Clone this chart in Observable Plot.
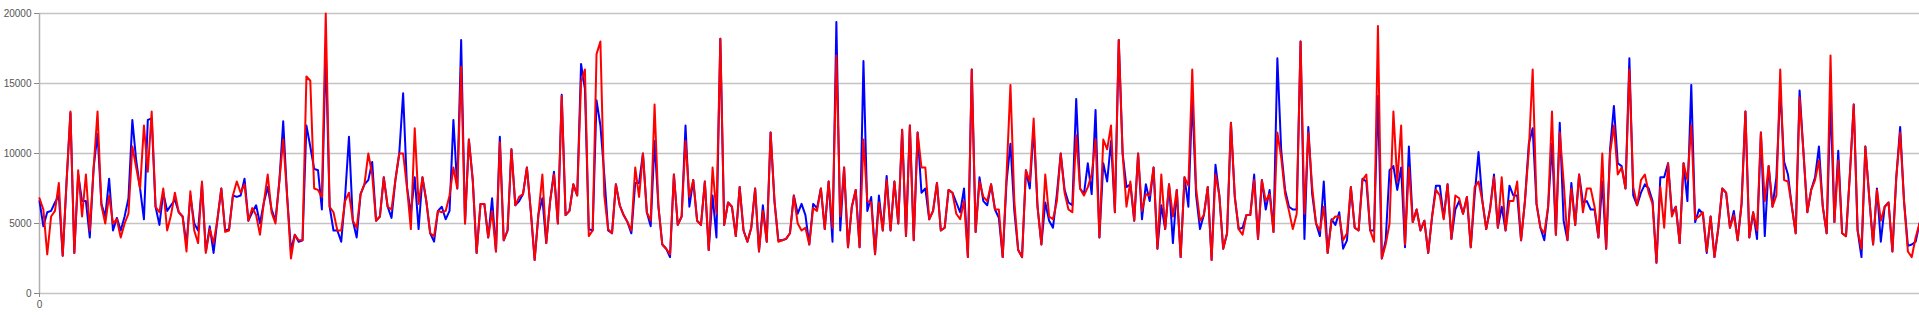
<!DOCTYPE html>
<html>
<head>
<meta charset="utf-8">
<script src="https://cdn.jsdelivr.net/npm/d3@7"></script>
<script src="https://cdn.jsdelivr.net/npm/@observablehq/plot@0.6"></script>
<style>
  html, body { margin: 0; padding: 0; background: #fff; }
  #chart { width: 1919px; height: 315px; overflow: hidden; }
</style>
</head>
<body>
<div id="chart"></div>
<script>
const yTicks = [0, 5000, 10000, 15000, 20000];
const xTicks = [0];

const blueSeries = [
6600,4800,5800,5900,6500,7000,2700,8000,12900,2900,8500,6600,6600,4000,9000,11400,6400,5500,8200,4500,
5400,4500,5500,6800,12400,9500,7500,5300,12400,12500,6200,4900,7200,5900,6300,6700,5800,5500,3500,7000,
5000,4500,7800,3000,4800,2900,5300,7500,4500,4600,7000,6900,7000,8200,5200,5800,6300,5000,6500,7600,
6000,5200,8000,12300,7000,3100,4200,3700,3800,12000,10500,8900,8800,6000,17500,6200,4500,4500,3700,6900,
11200,5200,4000,7100,7800,8100,9400,5200,5500,8300,6200,5400,8100,10000,14300,7600,5700,8300,4600,8300,
6600,4300,3700,5900,6200,5300,5900,12400,7500,18100,5000,11000,8100,2900,6400,6400,4000,6800,3000,11200,
3800,4500,10300,6300,6600,7100,9000,5900,2400,5700,6800,3600,6600,8700,5000,14200,5600,5900,7800,7000,
16400,14600,4600,4500,13800,12000,8500,4500,4300,7800,6300,5600,5100,4300,7900,7900,10000,5800,4800,10900,
6200,3500,3200,2600,8500,4900,5500,12000,6200,8100,5200,4900,8000,3100,7000,4000,18200,4900,6500,6200,
4100,7600,4500,3700,4700,7500,3000,6300,3700,11500,6600,3800,3800,3900,4300,7000,5700,6400,5600,3500,
6400,6100,7500,4600,8000,3700,19400,4500,9000,3300,6200,7400,3300,16600,5900,6900,2800,7000,4500,8400,
4500,8000,5000,11700,4100,12000,3800,11500,7200,7500,5300,5900,7900,4500,4700,7400,7200,6500,5800,7500,
2600,16000,4400,8300,6600,6300,7800,6000,5400,2600,8000,10700,5900,3100,2600,8800,7500,11800,6200,3500,
6500,5200,4700,7100,10000,7400,6500,6300,13900,7500,7100,9300,7100,13100,4000,9300,8000,10900,5800,18100,
10000,7600,7800,5200,10000,5300,7800,6600,9000,3200,6300,4600,7800,3600,7400,2600,8300,6200,14000,7000,
4600,5600,7600,2400,9200,7000,3200,4300,12200,6900,4600,4700,5600,5600,8500,3900,8100,6000,7400,4400,
16800,10200,7400,6200,6000,6000,18000,3900,11900,7100,5000,4100,8000,2900,5300,4900,5800,3200,3800,7600,
4700,4500,8200,8000,4500,4500,14100,2500,3800,8800,9100,7400,9000,3300,10500,5100,6000,4500,5200,2900,
5500,7700,7700,5400,7800,3900,6000,6600,5700,6900,3300,7000,10100,6600,4600,6100,8500,4700,6200,4500,
7700,7000,7000,3800,6600,10700,11800,6400,4700,3800,6200,10700,4200,12200,5200,3800,7900,4900,8500,6500,
6600,6000,6000,4000,8000,3200,10300,13400,9300,9100,7500,16800,7000,6300,7200,7800,7500,6600,2200,8300,
8300,9300,5700,6200,3600,9300,6600,14900,5100,6000,5700,2900,5500,2600,4700,7500,7200,4700,5900,3800,
6400,13000,4000,5800,3900,11500,4100,9100,6200,8300,14500,9400,8500,6200,4300,14500,10100,5800,7400,8300,
10500,6200,4300,13800,5100,10200,4300,4100,8500,13500,4500,2600,10500,6900,3500,7500,3700,6200,6500,3000,
8300,11900,6600,3400,3500,3700,5000
];

const redSeries = [
6800,6000,2800,5500,5900,7900,2700,8000,13000,2900,8800,5500,8500,4500,9000,13000,6300,5000,7000,5000,
5300,4000,5000,5700,10500,9000,7500,12000,8700,13000,6200,5800,7500,4500,5600,7200,5800,5500,3000,7300,
4500,3600,8000,2900,4600,3600,5300,7500,4400,4500,7000,8000,7200,7800,5200,6100,5600,4200,6500,8500,
5800,5000,8000,11000,7000,2500,4200,3800,3800,15500,15200,7500,7400,6900,20000,6200,5800,4500,4500,6600,
7200,5200,4700,7100,7800,10000,8500,5200,5500,8300,6200,6000,8100,10000,10000,7600,4600,11800,6400,8300,
6600,4300,4100,5900,5800,5900,7000,9000,7500,16200,5000,11000,8100,2900,6400,6400,4000,5900,3000,10800,
3800,4500,10300,6300,6900,7100,9000,5900,2400,5700,8500,3600,6600,8500,5000,14100,5600,5900,7800,7000,
15100,16000,4100,4500,17100,18000,7000,4600,4300,7800,6300,5600,5100,4500,9000,6900,10000,5800,5200,13500,
6200,3500,3200,2800,8500,4900,5500,10900,6900,8100,5200,4900,8000,3100,9000,5700,18200,4900,6500,6200,
4100,7600,4500,3700,4700,7500,3000,5900,3700,11500,6600,3700,3800,3900,4300,7000,5000,4500,4700,3500,
6100,5900,7500,4600,8000,4700,17000,5500,9000,3300,6200,7400,3300,11000,6600,6500,2800,6500,4500,8100,
4500,8000,5000,11700,4100,12000,3800,11500,9000,9000,5300,5900,7900,4500,4700,7400,7200,5700,5300,6600,
2600,16000,4400,8000,6900,6600,7800,6000,6000,2600,8500,14900,6600,3100,2600,8800,8000,12500,6200,3500,
8500,5500,5300,6600,10000,7200,6000,5800,11300,7500,7000,7600,8500,11000,4000,11000,10300,12000,5800,18100,
10000,6200,8000,5200,10000,5900,7100,7000,9000,3200,8500,4600,7800,5500,7400,2600,8300,7700,16000,7500,
5200,5600,7600,2400,8500,7000,3200,4300,12200,6900,4600,4200,5600,5600,8100,3900,8100,6600,7100,4400,
11500,9700,7100,5900,4600,5700,18000,5700,11500,7600,5000,4500,6200,2900,5200,5500,5500,3800,4300,7600,
4700,4500,8100,8500,4500,3700,19100,2500,3500,5000,13000,8000,12000,3500,9000,5100,6000,4500,5200,2900,
5500,7400,7000,5300,7800,3900,7000,6800,5700,6900,3300,7600,8000,6600,4600,6000,8300,4700,8300,4500,
6600,6600,8000,3800,6600,10200,16000,6400,4700,4300,6200,13000,4200,11500,8000,3800,7500,4900,8500,5800,
7500,7500,6200,4000,10000,3200,10000,12000,8500,9000,7500,16000,7600,6300,8100,8500,7200,6400,2200,7600,
4700,9300,5500,6200,3600,9300,8100,12000,5300,5500,5800,3000,5500,2600,4700,7500,7200,4700,5600,3800,
6400,13000,4000,5800,4500,11500,6600,9100,6200,7000,16000,8100,8000,6200,4300,14000,10100,5800,7400,8100,
9500,6200,4300,17000,5100,9500,4300,4100,8500,13500,4500,3200,10500,6900,3500,7400,5200,6200,6500,3000,
8300,11500,6600,3000,2600,4000,5000
];

const n = Math.min(blueSeries.length, redSeries.length);

const chart = Plot.plot({
  width: 1919,
  height: 315,
  marginLeft: 39,
  marginRight: 0,
  marginTop: 13,
  marginBottom: 22,
  style: { fontFamily: "'Liberation Sans', Arial, sans-serif", background: "#fff" },
  x: { domain: [0, n - 1], axis: null },
  y: { domain: [0, 20000], axis: null },
  marks: [
    Plot.gridY(yTicks, { stroke: "#c4c4c4", strokeOpacity: 1, strokeWidth: 1.5 }),
    Plot.ruleX([0], { stroke: "#b0b0b0", strokeWidth: 1.5 }),
    Plot.axisY(yTicks, {
      tickSize: 5, tickPadding: 3, fontSize: 10, stroke: "#888", fill: "#555",
      tickFormat: d => String(d)
    }),
    Plot.axisX(xTicks, {
      tickSize: 4, tickPadding: 3, fontSize: 10, stroke: "#888", fill: "#555",
      tickFormat: d => String(d)
    }),
    Plot.line(blueSeries.slice(0, n), { x: (d, i) => i, y: d => d, stroke: "#0000ff", strokeWidth: 2, curve: "linear" }),
    Plot.line(redSeries.slice(0, n), { x: (d, i) => i, y: d => d, stroke: "#ff0000", strokeWidth: 2, curve: "linear" })
  ]
});

document.getElementById("chart").appendChild(chart);
</script>
</body>
</html>
